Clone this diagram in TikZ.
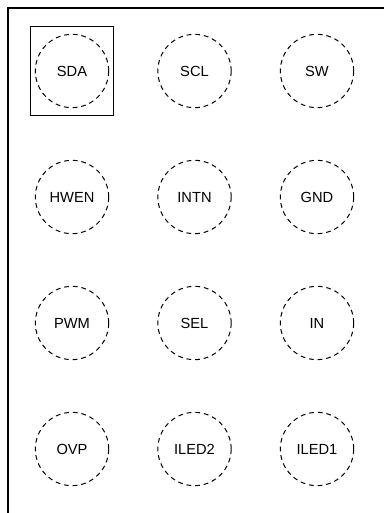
\documentclass[tikz,border=0pt]{standalone}
\usepackage{fontspec}
\setmainfont{Liberation Sans}

\begin{document}
\begin{tikzpicture}[x=0.75pt,y=-0.75pt]
   \tikzstyle{pad}=[draw, circle, dash pattern=on 3.6pt off 2.9pt, line width=0.75pt, minimum size=55pt, inner sep=0pt, font=\fontsize{11}{13}\selectfont]
   \tikzstyle{pin one}=[draw, line width=0.6pt, minimum width=62pt, minimum height=66.5pt, inner sep=0pt]

\useasboundingbox (0,0) rectangle (384,513);
\clip (0,0) rectangle (384,513);

% package outline, cut off at right and bottom
\draw[line width=1.5pt] (8,8.5) rectangle (420,560);

% ball grid
\foreach \name/\x/\y in {SDA/72/71, SCL/194.5/71, SW/317/71,
                         HWEN/72/197, INTN/194.5/197, GND/317/197,
                         PWM/72/323, SEL/194.5/323, IN/317/323,
                         OVP/72/449, ILED2/194.5/449, ILED1/317/449}
    \node[pad] (pad-\name) at (\x,\y) {\name};

\node[pin one] (marker) at (pad-SDA) {};

\end{tikzpicture}
\end{document}
